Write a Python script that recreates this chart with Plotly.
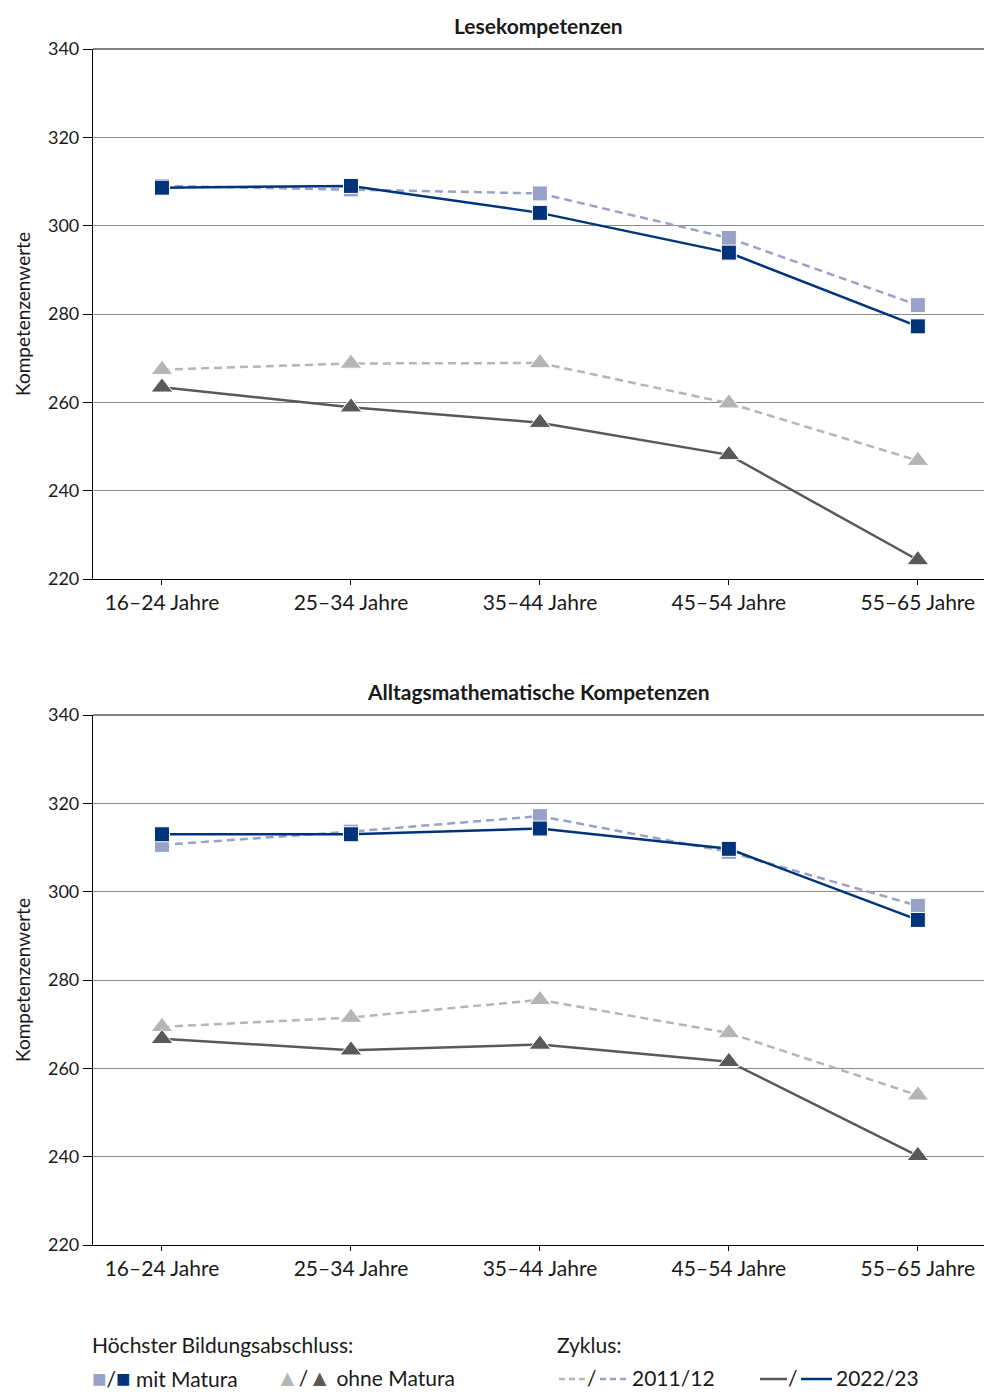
import plotly.graph_objects as go
from plotly.subplots import make_subplots

categories = ["16–24 Jahre", "25–34 Jahre", "35–44 Jahre", "45–54 Jahre", "55–65 Jahre"]
panel_titles = ["Lesekompetenzen", "Alltagsmathematische Kompetenzen"]

# Lesekompetenzen
lese_mit_2011 = [309.0, 308.2, 307.3, 297.2, 282.0]
lese_mit_2022 = [308.6, 309.0, 302.9, 293.9, 277.2]
lese_ohne_2011 = [267.4, 268.8, 268.9, 259.8, 246.8]
lese_ohne_2022 = [263.4, 258.9, 255.4, 248.1, 224.3]

# Alltagsmathematische Kompetenzen
math_mit_2011 = [310.6, 313.6, 317.1, 309.0, 296.8]
math_mit_2022 = [313.0, 313.0, 314.3, 309.7, 293.6]
math_ohne_2011 = [269.4, 271.5, 275.5, 268.0, 253.9]
math_ohne_2022 = [266.7, 264.1, 265.4, 261.5, 240.2]

y_ticks = [220, 240, 260, 280, 300, 320, 340]

C_MIT_OLD = "#9aa1c8"
C_MIT_NEW = "#00347a"
C_OHNE_OLD = "#b5b5b5"
C_OHNE_NEW = "#595959"

FONT = "Lato"

fig = make_subplots(rows=2, cols=1, vertical_spacing=0.1)

xs = list(range(len(categories)))

def add_panel(row, mit_old, mit_new, ohne_old, ohne_new):
    specs = [
        (ohne_old, C_OHNE_OLD, "dash", "triangle-up", 19),
        (ohne_new, C_OHNE_NEW, "solid", "triangle-up", 19),
        (mit_old, C_MIT_OLD, "dash", "square", 15),
        (mit_new, C_MIT_NEW, "solid", "square", 15),
    ]
    for vals, col, dash, sym, size in specs:
        fig.add_trace(go.Scatter(
            x=xs, y=vals, mode="lines+markers",
            line=dict(color=col, width=2.5, dash="8px,5px" if dash == "dash" else "solid"),
            marker=dict(symbol=sym, size=size, color=col, line=dict(color="white", width=1)),
            showlegend=False, hoverinfo="skip"), row=row, col=1)

add_panel(1, lese_mit_2011, lese_mit_2022, lese_ohne_2011, lese_ohne_2022)
add_panel(2, math_mit_2011, math_mit_2022, math_ohne_2011, math_ohne_2022)

top_dom = [1 - 579 / 1392, 1 - 49 / 1392]
bot_dom = [1 - 1245 / 1392, 1 - 715 / 1392]

for r, dom in [(1, top_dom), (2, bot_dom)]:
    fig.update_xaxes(row=r, col=1, tickmode="array", tickvals=xs, ticktext=categories,
                     range=[-0.365, 4.35], showgrid=False, showline=True, linecolor="black",
                     linewidth=1.2, ticks="outside", ticklen=5, tickcolor="black",
                     tickfont=dict(family=FONT, size=21, color="#1a1a1a"), zeroline=False,
                     automargin=False, domain=[0, 1])
    fig.update_yaxes(row=r, col=1, range=[220, 340], tickvals=y_ticks, domain=dom,
                     showgrid=True, gridcolor="#8a8a8a", gridwidth=1,
                     showline=True, linecolor="black", linewidth=1.2,
                     ticks="outside", ticklen=9, tickcolor="black",
                     tickfont=dict(family=FONT, size=18, color="#1a1a1a"),
                     title=dict(text="Kompetenzenwerte", font=dict(family=FONT, size=19, color="#1a1a1a"),
                                standoff=12),
                     zeroline=False, automargin=False)

# top border line at 340 (black)
for xr, yr in [("x domain", "y domain"), ("x2 domain", "y2 domain")]:
    fig.add_shape(type="line", xref=xr, yref=yr, x0=0, x1=1, y0=1, y1=1,
                  line=dict(color="black", width=1.2))

# panel titles
for t, dom in zip(panel_titles, [top_dom, bot_dom]):
    fig.add_annotation(text=f"<b>{t}</b>", xref="paper", yref="paper", x=0.5, y=dom[1] + 0.0065,
                       xanchor="center", yanchor="bottom", showarrow=False,
                       font=dict(family=FONT, size=21, color="#1a1a1a"))

# custom legend
lf = dict(family=FONT, size=21, color="#1a1a1a")

def px(xpix):
    return (xpix - 93) / (984 - 93)

def py(ypix):
    return 1 - ypix / 1392

for text, xpix, ypix in [
    ("Höchster Bildungsabschluss:", 91, 1344),
    ("Zyklus:", 556, 1344),
    (f"<span style='color:{C_MIT_OLD};font-size:24px'>■</span>/<span style='color:{C_MIT_NEW};font-size:24px'>■</span> mit Matura", 91, 1377),
    (f"<span style='color:{C_OHNE_OLD};font-size:23px'>▲</span>/<span style='color:{C_OHNE_NEW};font-size:23px'>▲</span> ohne Matura", 275, 1377),
    ("/", 586, 1377),
    ("2011/12", 631, 1377),
    ("/", 787, 1377),
    ("2022/23", 835, 1377),
]:
    fig.add_annotation(text=text, xref="paper", yref="paper", x=px(xpix), y=py(ypix),
                       xanchor="left", yanchor="middle", showarrow=False, font=lf, borderpad=0)

# legend line samples
for x0, x1, col, dash in [
    (559, 586, C_OHNE_OLD, "6px,4px"), (600, 628, C_MIT_OLD, "6px,4px"),
    (760, 787, C_OHNE_NEW, "solid"), (801, 832, C_MIT_NEW, "solid"),
]:
    fig.add_shape(type="line", xref="paper", yref="paper", x0=px(x0), x1=px(x1),
                  y0=py(1379), y1=py(1379), line=dict(color=col, width=2.5, dash=dash))

fig.update_layout(width=984, height=1392, margin=dict(l=93, r=0, t=0, b=0, autoexpand=False),
                  plot_bgcolor="white", paper_bgcolor="white",
                  font=dict(family=FONT, color="#1a1a1a"))

fig.write_html("out.html", config={"displayModeBar": False},
               post_script="document.body.style.margin='0';document.body.style.overflow='hidden';")
